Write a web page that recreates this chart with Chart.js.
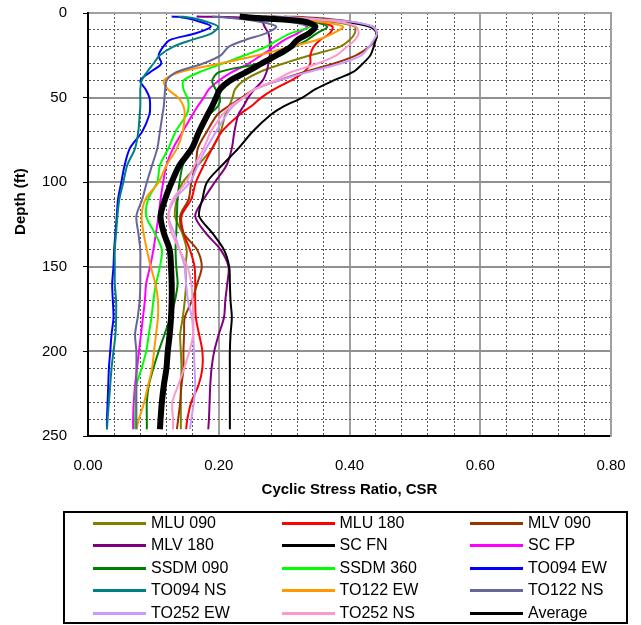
<!DOCTYPE html>
<html><head><meta charset="utf-8">
<script src="https://cdn.jsdelivr.net/npm/chart.js@4.4.0/dist/chart.umd.min.js"></script>
<style>
html,body{margin:0;padding:0;background:#fff;}
#wrap{position:relative;width:641px;height:625px;}
#c{position:absolute;left:0;top:0;}
#legend{position:absolute;left:63px;top:511px;width:565px;height:113px;border:2px solid #000;box-sizing:border-box;font-family:"Liberation Sans",Arial,sans-serif;font-size:16px;color:#000;}
.item{position:absolute;height:22px;line-height:22px;white-space:nowrap;}
.swatch{position:absolute;left:0;top:10px;width:53px;height:3px;}
.lbl{position:absolute;left:58px;top:0;}
</style></head>
<body><div id="wrap"><canvas id="c" width="641" height="625" style="width:641px;height:625px"></canvas><div id="legend"></div></div>
<script>
// Depth (ft) of each reading
const depths = [2,3,5,8,12,16,20,25,30,35,40,45,50,55,60,70,80,90,100,110,120,130,140,150,160,170,180,190,200,210,220,230,240,246];

// CSR values, one array per record
const mlu090  = [0.28,0.32,0.37,0.408,0.408,0.4,0.385,0.34,0.298,0.262,0.238,0.225,0.221,0.216,0.21,0.203,0.19,0.168,0.145,0.136,0.133,0.144,0.151,0.149,0.15,0.148,0.145,0.141,0.142,0.143,0.142,0.142,0.142,0.142];
const mlu180  = [0.27,0.31,0.35,0.374,0.37,0.355,0.345,0.34,0.34,0.33,0.31,0.285,0.265,0.25,0.232,0.205,0.19,0.177,0.165,0.158,0.143,0.146,0.156,0.163,0.164,0.164,0.165,0.17,0.175,0.175,0.169,0.158,0.152,0.15];
const mlv090  = [0.3,0.35,0.4,0.435,0.442,0.44,0.43,0.41,0.375,0.33,0.29,0.255,0.235,0.215,0.198,0.182,0.168,0.165,0.158,0.154,0.141,0.146,0.167,0.174,0.167,0.159,0.148,0.147,0.146,0.146,0.143,0.141,0.138,0.136];
const mlv180  = [0.166,0.248,0.266,0.27,0.276,0.278,0.278,0.278,0.276,0.273,0.267,0.255,0.245,0.238,0.23,0.224,0.22,0.212,0.194,0.177,0.164,0.18,0.203,0.215,0.213,0.21,0.208,0.2,0.193,0.189,0.187,0.186,0.185,0.184];
const scFN    = [0.28,0.33,0.39,0.43,0.442,0.44,0.437,0.432,0.42,0.405,0.375,0.348,0.328,0.3,0.28,0.252,0.23,0.205,0.182,0.175,0.17,0.19,0.208,0.216,0.217,0.218,0.22,0.218,0.217,0.217,0.217,0.217,0.217,0.217];
const scFP    = [0.25,0.28,0.31,0.335,0.32,0.3,0.285,0.265,0.245,0.22,0.2,0.185,0.177,0.168,0.16,0.145,0.13,0.12,0.115,0.111,0.108,0.104,0.1,0.095,0.089,0.087,0.084,0.081,0.078,0.075,0.072,0.07,0.069,0.069];
const ssdm090 = [0.26,0.3,0.34,0.366,0.35,0.335,0.315,0.295,0.26,0.2,0.19,0.195,0.202,0.199,0.186,0.172,0.156,0.145,0.14,0.137,0.136,0.135,0.134,0.135,0.137,0.133,0.126,0.117,0.108,0.1,0.093,0.09,0.09,0.09];
const ssdm360 = [0.25,0.28,0.31,0.34,0.31,0.29,0.272,0.24,0.205,0.17,0.146,0.146,0.152,0.154,0.151,0.134,0.123,0.11,0.106,0.092,0.089,0.102,0.113,0.11,0.104,0.1,0.097,0.093,0.089,0.082,0.074,0.073,0.072,0.072];
const to094EW = [0.128,0.15,0.17,0.188,0.165,0.125,0.115,0.108,0.112,0.095,0.08,0.088,0.094,0.095,0.094,0.083,0.064,0.056,0.051,0.046,0.044,0.042,0.04,0.039,0.037,0.038,0.039,0.036,0.034,0.032,0.031,0.03,0.029,0.029];
const to094NS = [0.138,0.16,0.18,0.199,0.189,0.158,0.13,0.11,0.1,0.09,0.082,0.08,0.08,0.08,0.079,0.077,0.072,0.06,0.054,0.048,0.045,0.043,0.041,0.041,0.041,0.043,0.043,0.042,0.039,0.036,0.034,0.032,0.03,0.029];
const to122EW = [0.26,0.3,0.35,0.39,0.375,0.35,0.31,0.26,0.2,0.14,0.116,0.122,0.138,0.146,0.148,0.145,0.136,0.12,0.108,0.088,0.082,0.085,0.09,0.096,0.103,0.107,0.107,0.104,0.101,0.098,0.092,0.086,0.078,0.074];
const to122NS = [0.19,0.22,0.26,0.288,0.272,0.24,0.215,0.203,0.175,0.135,0.12,0.118,0.117,0.116,0.114,0.11,0.106,0.098,0.09,0.083,0.074,0.077,0.08,0.08,0.08,0.079,0.076,0.072,0.074,0.074,0.074,0.074,0.074,0.074];
const to252EW = [0.29,0.33,0.4,0.435,0.442,0.437,0.43,0.418,0.385,0.335,0.29,0.256,0.238,0.222,0.212,0.196,0.181,0.168,0.156,0.133,0.123,0.132,0.14,0.148,0.15,0.153,0.159,0.161,0.162,0.163,0.164,0.162,0.158,0.156];
const to252NS = [0.28,0.32,0.38,0.41,0.414,0.408,0.396,0.38,0.35,0.31,0.285,0.255,0.238,0.218,0.206,0.188,0.177,0.163,0.15,0.13,0.123,0.128,0.14,0.152,0.158,0.16,0.161,0.161,0.155,0.147,0.138,0.129,0.13,0.13];
const average = [0.232,0.26,0.33,0.348,0.338,0.32,0.31,0.288,0.265,0.242,0.217,0.202,0.196,0.19,0.183,0.17,0.159,0.14,0.128,0.118,0.111,0.116,0.125,0.127,0.128,0.128,0.127,0.125,0.122,0.12,0.116,0.113,0.111,0.11];

const seriesNames  = ['MLU 090','MLU 180','MLV 090','MLV 180','SC FN','SC FP','SSDM 090','SSDM 360','TO094 EW','TO094 NS','TO122 EW','TO122 NS','TO252 EW','TO252 NS','Average'];
const seriesValues = [mlu090,mlu180,mlv090,mlv180,scFN,scFP,ssdm090,ssdm360,to094EW,to094NS,to122EW,to122NS,to252EW,to252NS,average];
const seriesColors = ['#808000','#FF0000','#993300','#800080','#000000','#FF00FF','#008000','#00FF00','#0000FF','#008080','#FF9900','#666699','#CC99FF','#FF99CC','#000000'];

const xTickLabels = ['0.00','0.20','0.40','0.60','0.80'];
const yTickLabels = ['0','50','100','150','200','250'];

const FONT = '"Liberation Sans", Arial, sans-serif';
const isMult = (v, step) => Math.abs(v / step - Math.round(v / step)) < 1e-6;
const noPad = s => { s.paddingTop = 0; s.paddingBottom = 0; s.paddingLeft = 0; s.paddingRight = 0; };

const datasets = seriesNames.map((name, i) => ({
  label: name,
  data: depths.map((d, k) => ({x: seriesValues[i][k], y: d})),
  borderColor: seriesColors[i],
  backgroundColor: seriesColors[i],
  borderWidth: name === 'Average' ? 6 : 2,
  pointRadius: 0,
  pointHoverRadius: 0,
  showLine: true,
  tension: 0.3,
  fill: false,
  order: seriesNames.length - i
}));

const chart = new Chart(document.getElementById('c'), {
  type: 'scatter',
  data: {datasets},
  options: {
    responsive: false,
    animation: false,
    devicePixelRatio: 1,
    layout: {padding: {top: 0, right: 0, bottom: 126, left: 0}},
    plugins: {legend: {display: false}, tooltip: {enabled: false}},
    scales: {
      x: {
        type: 'linear', position: 'bottom', min: 0, max: 0.8,
        afterFit: s => { s.height = 63; noPad(s); },
        ticks: {stepSize: 0.04, autoSkip: false, maxRotation: 0, padding: 21, color: '#000',
          font: {size: 15, family: FONT},
          callback: v => isMult(v, 0.2) ? xTickLabels[Math.round(v / 0.2)] : ''},
        grid: {drawTicks: false, lineWidth: 1,
          color: c => (c.tick && !isMult(c.tick.value, 0.2)) ? '#555' : 'rgba(0,0,0,0)'},
        border: {display: true, color: '#000', width: 2, dash: [2, 2]},
        title: {display: true, text: 'Cyclic Stress Ratio, CSR', color: '#000',
          font: {size: 15, weight: 'bold', family: FONT}, padding: {top: 0, bottom: 0}}
      },
      x2: {
        type: 'linear', position: 'top', min: 0, max: 0.8,
        afterFit: s => { s.height = 13; noPad(s); },
        ticks: {display: false, stepSize: 0.2},
        grid: {drawTicks: false, lineWidth: 2,
          color: c => (c.tick && c.tick.value > 0.01 && c.tick.value < 0.79) ? '#a0a0a0' : 'rgba(0,0,0,0)'},
        border: {display: true, color: '#a0a0a0', width: 2}
      },
      y: {
        type: 'linear', position: 'left', reverse: true, min: 0, max: 250,
        afterFit: s => { s.width = 88; noPad(s); },
        ticks: {stepSize: 10, autoSkip: false, padding: 16, color: '#000',
          font: {size: 15, family: FONT},
          callback: v => (v % 50 === 0) ? yTickLabels[v / 50] : ''},
        grid: {drawTicks: true, tickLength: 5, tickWidth: 1, lineWidth: 1,
          tickColor: c => (c.tick && c.tick.value % 50 === 0) ? '#000' : 'rgba(0,0,0,0)',
          color: c => (c.tick && c.tick.value % 50 !== 0) ? '#555' : 'rgba(0,0,0,0)'},
        border: {display: true, color: '#000', width: 2, dash: [2, 2]},
        title: {display: true, text: '           Depth (ft)', color: '#000',
          font: {size: 15, weight: 'bold', family: FONT}, padding: {top: 12, bottom: 0}}
      },
      y2: {
        type: 'linear', position: 'right', reverse: true, min: 0, max: 250,
        afterFit: s => { s.width = 30; noPad(s); },
        ticks: {display: false, stepSize: 50},
        grid: {drawTicks: false, lineWidth: 2,
          color: c => (c.tick && c.tick.value > 0 && c.tick.value < 250) ? '#909090' : 'rgba(0,0,0,0)'},
        border: {display: true, color: '#a0a0a0', width: 2}
      }
    }
  }
});

// HTML legend built from the chart's datasets (3 columns x 5 rows)
const legend = document.getElementById('legend');
const colX = [28, 216.5, 405];
const rowY = [-1, 21, 44, 66, 89];
chart.data.datasets.forEach((ds, i) => {
  const item = document.createElement('div');
  item.className = 'item';
  item.style.left = colX[i % 3] + 'px';
  item.style.top = rowY[Math.floor(i / 3)] + 'px';
  const sw = document.createElement('div');
  sw.className = 'swatch';
  sw.style.background = ds.borderColor;
  const lb = document.createElement('span');
  lb.className = 'lbl';
  lb.textContent = ds.label;
  item.appendChild(sw);
  item.appendChild(lb);
  legend.appendChild(item);
});
</script>
</body></html>
